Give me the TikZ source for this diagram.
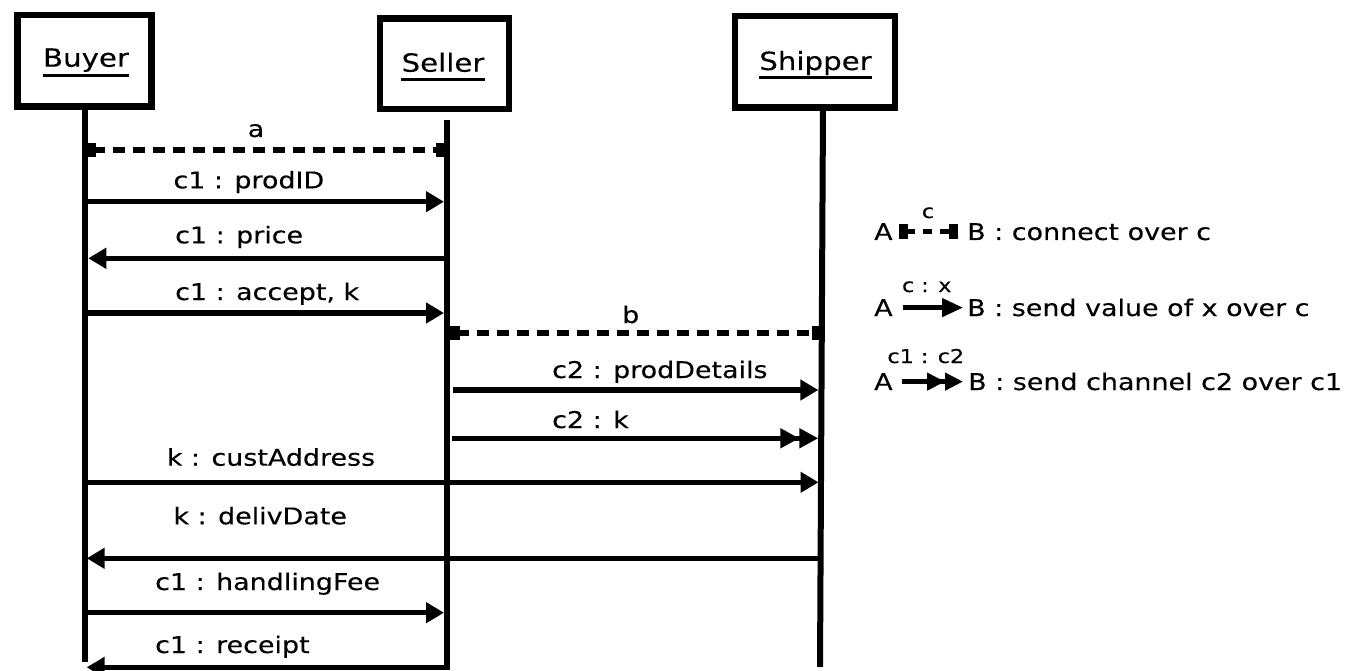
\documentclass[tikz,border=0pt]{standalone}
\usepackage{fontspec}
\setmainfont{DejaVu Sans}[FakeStretch=1.17,FakeBold=0.2]
\usetikzlibrary{arrows.meta}
\tikzset{
  actorbox/.style={draw, line width=6.5pt, inner sep=0pt},
  actorname/.style={font=\fontsize{25}{30}\selectfont, inner sep=0pt, anchor=base},
  uline/.style={line width=2.8pt},
  lifeline/.style={line width=6pt},
  msg/.style={line width=5.5pt, -{Triangle[length=18pt,width=20pt]}},
  chan/.style={line width=5.5pt, -{Triangle[length=19pt,width=19pt,sep=0pt]Triangle[length=19pt,width=19pt]}},
  conn/.style={line width=6pt, dash pattern=on 12pt off 8pt, {Square[length=11pt,width=14pt]}-{Square[length=11pt,width=14pt]}},
  lbl/.style={font=\fontsize{23}{27}\selectfont, inner sep=0pt, anchor=base west},
  lblc/.style={font=\fontsize{23}{27}\selectfont, inner sep=0pt, anchor=base},
  small/.style={font=\fontsize{19}{22}\selectfont, inner sep=0pt, anchor=base},
  legmsg/.style={line width=4.5pt, -{Triangle[length=21pt,width=18pt]}},
  legchan/.style={line width=4.5pt, -{Triangle[length=18pt,width=17pt,sep=0pt]Triangle[length=18pt,width=17pt]}},
  legconn/.style={line width=4.5pt, dash pattern=on 9pt off 8pt, {Square[length=9pt,width=15pt]}-{Square[length=9pt,width=15pt]}}
}
\begin{document}
\begin{tikzpicture}[x=1pt,y=-1pt]
\useasboundingbox (0,0) rectangle (1355,671);

% actor boxes
\node[actorbox, minimum width=134.4pt, minimum height=91.7pt] (buyer) at (84.5,60.85) {};
\node[actorbox, minimum width=129pt, minimum height=90.7pt] (seller) at (444.5,63.65) {};
\node[actorbox, minimum width=160pt, minimum height=91.5pt] (shipper) at (815,61.75) {};
\node[actorname] (buyerL) at (86,66.7) {Buyer};
\node[actorname] (sellerL) at (443,71.7) {Seller};
\node[actorname] (shipperL) at (815.5,70) {Shipper};
\draw[uline] ([yshift=-8.5pt]buyerL.base west) -- ([yshift=-8.5pt]buyerL.base east);
\draw[uline] ([yshift=-7.5pt]sellerL.base west) -- ([yshift=-7.5pt]sellerL.base east);
\draw[uline] ([yshift=-7.7pt]shipperL.base west) -- ([yshift=-7.7pt]shipperL.base east);

% lifelines
\coordinate (bT) at (84.5,106.7);
\coordinate (bB) at (84.5,662);
\coordinate (sT) at (446.5,120);
\coordinate (sB) at (446.5,670);
\coordinate (hT) at (823,107.5);
\coordinate (hB) at (820,667);
\draw[lifeline] (buyer.south) -- (bB);
\draw[lifeline] (sT) -- (sB);
\draw[lifeline] (hT) -- (hB);

% messages
\draw[conn] (bT |- 0,150) -- (sT |- 0,150);
\node[lblc] (la) at (256,137) {a};

\draw[msg, shorten >=2.5pt] (bT |- 0,201.7) -- (sT |- 0,201.7);
\node[lbl] (l1) at (173.3,188.3) {c1 : prodID};

\draw[msg, shorten >=3.8pt] (sT |- 0,258.3) -- (bT |- 0,258.3);
\node[lbl] (l2) at (175,243.3) {c1 : price};

\draw[msg, shorten >=2.5pt] (bT |- 0,313) -- (sT |- 0,313);
\node[lbl] (l3) at (175,300) {c1 : accept, k};

\draw[conn, shorten <=2.5pt] (sT |- 0,333.3) -- (hT |- 0,333.3);
\node[lblc] (lb) at (630.7,323) {b};

\draw[msg, shorten <=6.5pt, shorten >=4.7pt] (sT |- 0,390) -- (hT |- 0,390);
\node[lbl] (l4) at (552,378) {c2 : prodDetails};

\draw[chan, shorten <=5.5pt, shorten >=4.7pt] (sT |- 0,438.3) -- (hT |- 0,438.3);
\node[lbl] (l5) at (552,428) {c2 : k};

\draw[msg, shorten <=3.5pt, shorten >=4.5pt] (bT |- 0,482.3) -- (hT |- 0,482.3);
\node[lbl] (l6) at (166.7,465.7) {k : custAddress};

\draw[msg, shorten <=2.5pt, shorten >=2.2pt] (hT |- 0,558.3) -- (bT |- 0,558.3);
\node[lbl] (l7) at (173.3,524.3) {k : delivDate};

\draw[msg, shorten >=2.5pt] (bT |- 0,612.7) -- (sT |- 0,612.7);
\node[lbl] (l8) at (155,590) {c1 : handlingFee};

\draw[msg, shorten <=-3pt, shorten >=2.2pt] (sT |- 0,667.3) -- (bT |- 0,667.3);
\node[lbl] (l9) at (155,653) {c1 : receipt};

% legend
\node[lbl] (lA1) at (874,240) {A};
\node[lbl] (lB1) at (967,240) {B : connect over c};
\node[small] (lc1) at (928,218) {c};
\draw[legconn] ([xshift=6pt]lA1.east) -- ([xshift=-9pt]lA1.east -| lB1.west);

\node[lbl] (lA2) at (874,316) {A};
\node[lbl] (lB2) at (967,316) {B : send value of x over c};
\node[small] (lc2) at (926.7,292) {c : x};
\draw[legmsg] ([xshift=10.5pt]lA2.east) -- ([xshift=-4pt]lA2.east -| lB2.west);

\node[lbl] (lA3) at (874,390) {A};
\node[lbl] (lB3) at (968,390) {B : send channel c2 over c1};
\node[small] (lc3) at (925.8,363) {c1 : c2};
\draw[legchan] ([xshift=9.5pt]lA3.east) -- ([xshift=-5pt]lA3.east -| lB3.west);
\end{tikzpicture}
\end{document}
